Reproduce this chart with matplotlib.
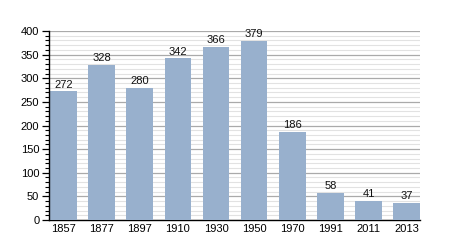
import matplotlib
matplotlib.use("Agg")
import matplotlib.pyplot as plt
from matplotlib.ticker import MultipleLocator

years = ["1857", "1877", "1897", "1910", "1930", "1950", "1970", "1991", "2011", "2013"]
population = [272, 328, 280, 342, 366, 379, 186, 58, 41, 37]

plt.rcParams['font.family'] = ['Liberation Sans', 'DejaVu Sans']

fig = plt.figure(figsize=(4.5, 2.5), dpi=100)
ax = fig.add_axes([49/450, 1-220/250, 371/450, 189/250])

x = list(range(len(years)))
w = 0.7
ax.bar(x, population, width=w, color="#98b0cd", zorder=3)
for xi, v in zip(x, population):
    ax.text(xi, v + 4, str(v), ha="center", va="bottom", fontsize=8, color="#111111", zorder=4)

ax.set_xlim(-w/2 - 0.03, len(years) - 1 + w/2)
ax.set_ylim(0, 400)
ax.set_xticks(x)
ax.set_xticklabels(years)
ax.yaxis.set_major_locator(MultipleLocator(50))
ax.yaxis.set_minor_locator(MultipleLocator(10))
ax.grid(axis="y", which="major", color="#aaaaaa", linewidth=0.9, zorder=1)
ax.grid(axis="y", which="minor", color="#e2e2e2", linewidth=0.8, zorder=0)

for s in ["top", "right"]:
    ax.spines[s].set_visible(False)
ax.spines["left"].set_linewidth(1.0)
ax.spines["bottom"].set_linewidth(1.0)
ax.spines["left"].set_zorder(5)
ax.tick_params(axis="y", which="major", direction="out", length=5, width=0.9, labelsize=8, pad=2)
ax.tick_params(axis="y", which="minor", direction="out", length=3, width=0.8)
ax.tick_params(axis="x", which="both", length=0, labelsize=8, pad=3)

fig.savefig("out.png", dpi=100)
